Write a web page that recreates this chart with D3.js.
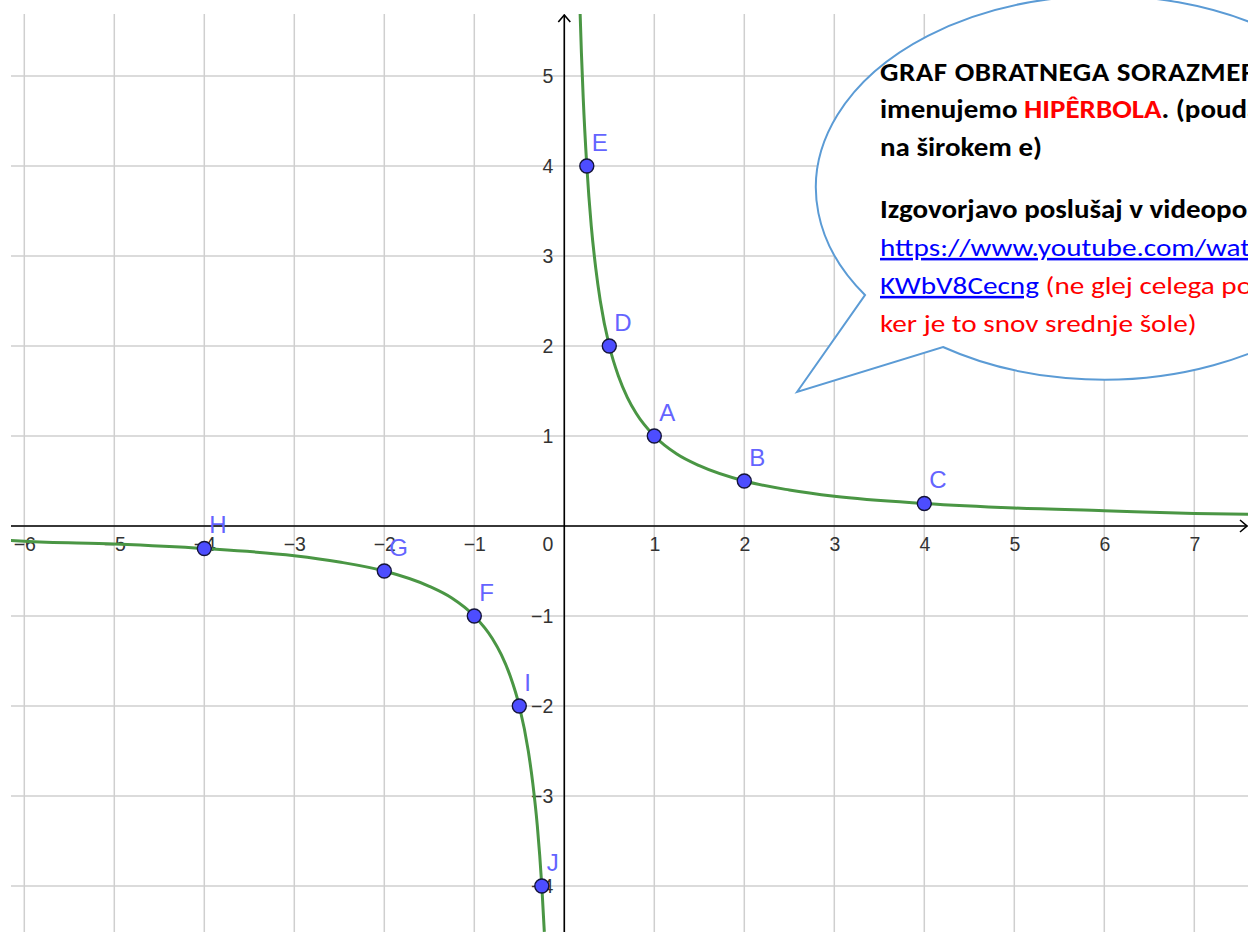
<!DOCTYPE html>
<html>
<head>
<meta charset="utf-8">
<script src="https://cdn.jsdelivr.net/npm/d3@7"></script>
<style>
	html, body { margin: 0; padding: 0; background: #fff; }
	svg { display: block; }
</style>
</head>
<body>
<svg id="chart"></svg>
<script>
// named points of y = 1/x
var pointNames = ["A", "B", "C", "D", "E", "F", "G", "H", "I", "J"];
var pointX = [1, 2, 4, 0.5, 0.25, -1, -2, -4, -0.5, -0.25];
var pointY = [1, 0.5, 0.25, 2, 4, -1, -0.5, -0.25, -2, -4];

// the two branches of the hyperbola
var rightBranchX = [0.176, 0.19, 0.21, 0.25, 0.3, 0.35, 0.4, 0.5, 0.6, 0.7, 0.8, 1, 1.25, 1.5, 2, 2.5, 3, 4, 5, 6, 7, 7.6];
var rightBranchY = [5.69, 5.26, 4.76, 4, 3.33, 2.86, 2.5, 2, 1.67, 1.43, 1.25, 1, 0.8, 0.67, 0.5, 0.4, 0.33, 0.25, 0.2, 0.17, 0.14, 0.13];
var leftBranchX = [-6.15, -6, -5, -4, -3, -2.5, -2, -1.5, -1.25, -1, -0.8, -0.7, -0.6, -0.5, -0.4, -0.35, -0.3, -0.25, -0.222];
var leftBranchY = [-0.16, -0.17, -0.2, -0.25, -0.33, -0.4, -0.5, -0.67, -0.8, -1, -1.25, -1.43, -1.67, -2, -2.5, -2.86, -3.33, -4, -4.51];

var xTicks = [-6, -5, -4, -3, -2, -1, 1, 2, 3, 4, 5, 6, 7];
var yTicks = [-4, -3, -2, -1, 1, 2, 3, 4, 5];

// speech bubble text: [text, style, colour]
var bubbleLines = [
	[["GRAF OBRATNEGA SORAZMERJA", "b", "#000"]],
	[["imenujemo ", "b", "#000"], ["HIPÊRBOLA", "b", "#ff0000"], [". (poudarek", "b", "#000"]],
	[["na širokem e)", "b", "#000"]],
	[["Izgovorjavo poslušaj v videoposnetku:", "b", "#000"]],
	[["https://www.youtube.com/watch?v=", "u", "#0000ff"]],
	[["KWbV8Cecng", "u", "#0000ff"], [" (ne glej celega posnetka,", "r", "#ff0000"]],
	[["ker je to snov srednje šole)", "r", "#ff0000"]]
];

var W = 1248, H = 932;
var plot = { left: 11, top: 14, right: 1248, bottom: 932 },
	originX = 564.3, originY = 526, unit = 90;

var x = d3.scaleLinear()
	.domain([(plot.left - originX) / unit, (plot.right - originX) / unit])
	.range([plot.left, plot.right]);
var y = d3.scaleLinear()
	.domain([(originY - plot.bottom) / unit, (originY - plot.top) / unit])
	.range([plot.bottom, plot.top]);

var svg = d3.select("#chart").attr("width", W).attr("height", H);

svg.append("rect").attr("width", W).attr("height", H).attr("fill", "#fff");

svg.append("defs").append("clipPath").attr("id", "plotclip")
	.append("rect")
	.attr("x", plot.left).attr("y", plot.top)
	.attr("width", plot.right - plot.left).attr("height", plot.bottom - plot.top);

var view = svg.append("g").attr("clip-path", "url(#plotclip)");

// grid
var gridX = d3.range(Math.ceil(x.domain()[0]), Math.floor(x.domain()[1]) + 1),
	gridY = d3.range(Math.ceil(y.domain()[0]), Math.floor(y.domain()[1]) + 1);

view.selectAll("line.gx")
	.data(gridX)
	.enter()
	.append("line")
	.attr("class", "gx")
	.attr("x1", function(d) { return x(d); })
	.attr("x2", function(d) { return x(d); })
	.attr("y1", plot.top)
	.attr("y2", plot.bottom)
	.attr("stroke", "#cfcfcf")
	.attr("stroke-width", 1.5);

view.selectAll("line.gy")
	.data(gridY)
	.enter()
	.append("line")
	.attr("class", "gy")
	.attr("y1", function(d) { return y(d); })
	.attr("y2", function(d) { return y(d); })
	.attr("x1", plot.left)
	.attr("x2", plot.right)
	.attr("stroke", "#cfcfcf")
	.attr("stroke-width", 1.5);

// tick labels
var tickFont = "'Liberation Sans', Arial, sans-serif";

var xAxis = view.append("g")
	.attr("transform", "translate(0," + y(0) + ")")
	.call(d3.axisBottom(x).tickValues(xTicks).tickSize(0).tickPadding(11).tickFormat(d3.format("d")));
xAxis.select(".domain").remove();

var yAxis = view.append("g")
	.attr("transform", "translate(" + x(0) + ",0)")
	.call(d3.axisLeft(y).tickValues(yTicks).tickSize(0).tickPadding(11).tickFormat(d3.format("d")));
yAxis.select(".domain").remove();

view.append("text")
	.attr("x", x(0) - 11)
	.attr("y", y(0) + 11)
	.attr("dy", "0.71em")
	.attr("text-anchor", "end")
	.text("0");

view.selectAll("g, text")
	.attr("font-family", tickFont)
	.attr("font-size", 19.5);
xAxis.attr("color", "#333");
yAxis.attr("color", "#333");
view.selectAll("text").attr("fill", "#333");

// axes with arrows
view.append("line")
	.attr("x1", plot.left).attr("x2", plot.right - 1)
	.attr("y1", y(0)).attr("y2", y(0))
	.attr("stroke", "#000").attr("stroke-width", 1.6);
view.append("path")
	.attr("d", "M" + (plot.right - 8) + "," + (y(0) - 6) + "L" + (plot.right - 1) + "," + y(0) + "L" + (plot.right - 8) + "," + (y(0) + 6))
	.attr("fill", "none").attr("stroke", "#000").attr("stroke-width", 1.6);

view.append("line")
	.attr("x1", x(0)).attr("x2", x(0))
	.attr("y1", plot.bottom).attr("y2", plot.top + 1)
	.attr("stroke", "#000").attr("stroke-width", 1.6);
view.append("path")
	.attr("d", "M" + (x(0) - 6) + "," + (plot.top + 8) + "L" + x(0) + "," + (plot.top + 1) + "L" + (x(0) + 6) + "," + (plot.top + 8))
	.attr("fill", "none").attr("stroke", "#000").attr("stroke-width", 1.6);

// hyperbola
var line = d3.line()
	.x(function(d) { return x(d[0]); })
	.y(function(d) { return y(d[1]); })
	.curve(d3.curveMonotoneX);

[d3.zip(rightBranchX, rightBranchY), d3.zip(leftBranchX, leftBranchY)].forEach(function(branch) {
	view.append("path")
		.datum(branch)
		.attr("d", line)
		.attr("fill", "none")
		.attr("stroke", "#4a9644")
		.attr("stroke-width", 3);
});

// points and their labels
var points = d3.range(pointNames.length).map(function(i) {
	return { name: pointNames[i], x: pointX[i], y: pointY[i] };
});

view.selectAll("circle.pt")
	.data(points)
	.enter()
	.append("circle")
	.attr("class", "pt")
	.attr("cx", function(d) { return x(d.x); })
	.attr("cy", function(d) { return y(d.y); })
	.attr("r", 7)
	.attr("fill", "#4d4dff")
	.attr("stroke", "#14143a")
	.attr("stroke-width", 1.4);

view.selectAll("text.pl")
	.data(points)
	.enter()
	.append("text")
	.attr("class", "pl")
	.attr("x", function(d) { return x(d.x) + 5; })
	.attr("y", function(d) { return y(d.y) - 15.5; })
	.attr("font-family", tickFont)
	.attr("font-size", 24)
	.attr("fill", "#6464ff")
	.text(function(d) { return d.name; });

// speech bubble
var tip = [797, 392], att1 = [865, 295], att2 = [943, 347],
	brx = 288, bry = 192;

svg.append("path")
	.attr("d", "M" + tip + "L" + att1 + "A" + brx + "," + bry + " 0 1 1 " + att2 + "Z")
	.attr("fill", "#fff")
	.attr("stroke", "#5b9bd5")
	.attr("stroke-width", 2)
	.attr("stroke-linejoin", "miter");

var bubbleFont = "Carlito, Calibri, Lato, sans-serif",
	boldSize = 26, regSize = 25.5;

// measure a string so the text can be squeezed to the width seen in the picture
function measure(str, weight, size) {
	var t = svg.append("text")
		.attr("font-family", bubbleFont)
		.attr("font-weight", weight)
		.attr("font-size", size)
		.style("white-space", "pre")
		.text(str);
	var w = t.node().getComputedTextLength();
	t.remove();
	return w;
}

var boldScale = (163 / measure("na širokem e)", 700, boldSize) + 137 / measure("Izgovorjavo", 700, boldSize)) / 2,
	regScale = (317 / measure("ker je to snov srednje šole)", 400, regSize) + 159 / measure("KWbV8Cecng", 400, regSize)) / 2;

var baselines = [81, 118, 156, 218, 256, 294, 332];

bubbleLines.forEach(function(segs, i) {
	var bold = segs[0][1] == "b";
	var t = svg.append("text")
		.attr("transform", "translate(880," + baselines[i] + ") scale(" + (bold ? boldScale : regScale) + ",1)")
		.attr("font-family", bubbleFont)
		.attr("letter-spacing", i == 0 ? 0.45 : 0)
		.style("white-space", "pre");
	segs.forEach(function(s) {
		t.append("tspan")
			.attr("font-weight", s[1] == "b" ? 700 : 400)
			.attr("font-size", s[1] == "b" ? boldSize : regSize)
			.attr("fill", s[2])
			.style("text-decoration", s[1] == "u" ? "underline" : null)
			.text(s[0]);
	});
});
</script>
</body>
</html>
